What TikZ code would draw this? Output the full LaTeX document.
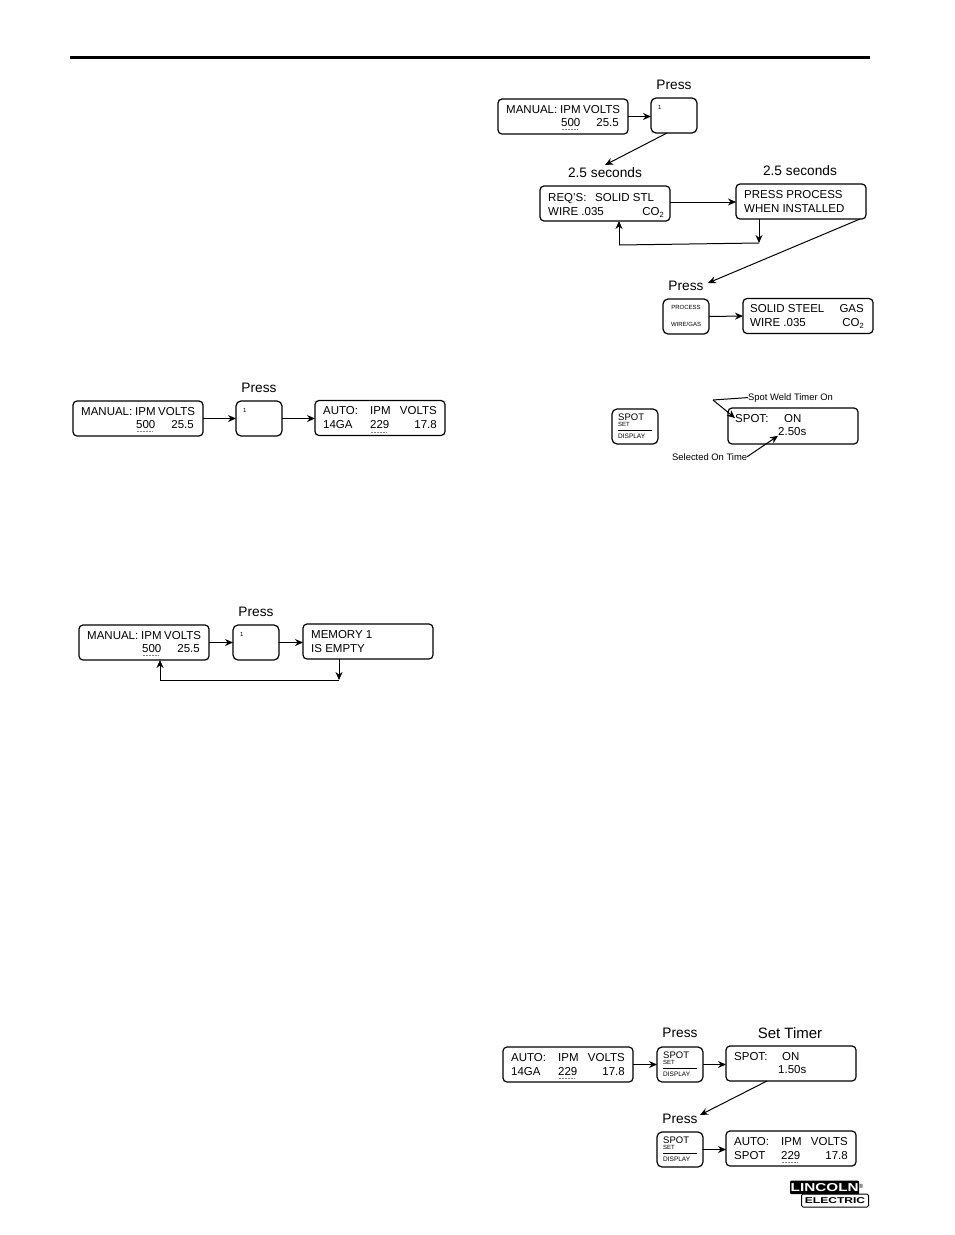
\documentclass[tikz,border=0pt]{standalone}
\usepackage{fontspec}
\setmainfont{Liberation Sans}
\usetikzlibrary{calc,arrows.meta}
\newcommand\fs[1]{\fontsize{#1}{#1}\selectfont}
\newcommand\cotwo{CO\raisebox{-2pt}{\fs{7.5}2}}
\tikzset{
  x=1pt,y=-1pt,
  lcdbox/.style={draw,line width=1.2pt,rounded corners=4pt,minimum width=130pt,minimum height=35pt,inner sep=0pt,outer sep=0pt,anchor=north west},
  btnbox/.style={draw,line width=1.2pt,rounded corners=5pt,minimum width=46pt,minimum height=35pt,inner sep=0pt,outer sep=0pt,anchor=north west},
  lt/.style={inner sep=0pt,anchor=base west,font=\fs{11.5}},
  rt/.style={inner sep=0pt,anchor=base east,font=\fs{11.5}},
  small/.style={inner sep=0pt,anchor=base west,font=\fs{6}},
  smallc/.style={inner sep=0pt,anchor=base,font=\fs{6}},
  head/.style={inner sep=0pt,anchor=center,font=\fs{13.7}},
  note/.style={inner sep=0pt,anchor=base west,font=\fs{9.4}},
  arr/.style={line width=1pt,-{Stealth[length=8pt,width=7pt]}},
  plain/.style={line width=1pt},
  cursor/.style={line width=.8pt,gray,dash pattern=on 2pt off 1pt}
}
\newcommand\manualdisp[3]{\begin{scope}[shift={(#2,#3)}]
  \node[lcdbox] (#1) at (0,0) {};
  \node[lt] (#1a) at (8,14) {MANUAL:};
  \node[lt] (#1b) at (62,14) {IPM};
  \node[lt] (#1c) at (85,14) {VOLTS};
  \node[lt] (#1d) at (63,27) {500};
  \node[rt] (#1e) at (121,27) {25.5};
  \draw[cursor] (64,30.5) -- (80,30.5);
\end{scope}}
\newcommand\autodisp[4]{\begin{scope}[shift={(#2,#3)}]
  \node[lcdbox] (#1) at (0,0) {};
  \node[lt] (#1a) at (8,14) {AUTO:};
  \node[lt] (#1b) at (55,14) {IPM};
  \node[rt] (#1c) at (122,14) {VOLTS};
  \node[lt] (#1d) at (8,28) {#4};
  \node[lt] (#1e) at (55,28) {229};
  \node[rt] (#1f) at (122,28) {17.8};
  \draw[cursor] (56,31.5) -- (72,31.5);
\end{scope}}
\newcommand\onebtn[3]{\begin{scope}[shift={(#2,#3)}]
  \node[btnbox] (#1) at (0,0) {};
  \node[small] (#1a) at (7,11) {1};
\end{scope}}
\newcommand\spotbtn[3]{\begin{scope}[shift={(#2,#3)}]
  \node[btnbox] (#1) at (0,0) {};
  \node[lt,font=\fs{9.5}] (#1a) at (6,11.5) {SPOT};
  \node[small] (#1b) at (6,17.5) {SET};
  \draw[line width=.5pt] (6,21) -- (40,21);
  \node[small,font=\fs{6.5}] (#1c) at (6,29.5) {DISPLAY};
\end{scope}}
\begin{document}
\begin{tikzpicture}
\useasboundingbox (0,0) rectangle (954,1235);
\fill[white] (0,0) rectangle (954,1235);
\draw[line width=3pt] (70,57) -- (870,57);

% --- top right
\node[head] (p1) at (674,85) {Press};
\manualdisp{m1}{498}{99}
\onebtn{b1}{651}{98}
\draw[arr] (m1.east) -- (m1.east -| b1.west);
\node[head] (s1) at (605,173) {2.5 seconds};
\node[head] (s2) at (800,171) {2.5 seconds};
\coordinate (c1) at (605,165);
\draw[arr] ($(b1.south)+(-7,0)$) -- (c1);
\begin{scope}[shift={(540,186)}]
  \node[lcdbox] (r1) at (0,0) {};
  \node[lt] (r1a) at (8,15) {REQ'S:};
  \node[lt] (r1b) at (55,15) {SOLID STL};
  \node[lt] (r1c) at (8,29) {WIRE .035};
  \node[rt] (r1d) at (124,29) {\cotwo};
\end{scope}
\begin{scope}[shift={(736,184)}]
  \node[lcdbox] (w1) at (0,0) {};
  \node[lt] (w1a) at (8,14) {PRESS PROCESS};
  \node[lt] (w1b) at (8,28) {WHEN INSTALLED};
\end{scope}
\draw[arr] ($(r1.east)+(0,-1.5)$) -- ($(w1.west)+(0,.5)$);
\coordinate (c2) at (759,243);
\draw[arr] ($(w1.south)+(-42,0)$) -- (c2);
\coordinate (c3) at (619,245);
\draw[plain] (c2) -- (c3);
\draw[arr] (c3) -- ($(r1.south)+(14,0)$);
\node[head] (p2) at (686,286) {Press};
\coordinate (c4) at (708,283);
\draw[arr] ($(w1.south east)+(-6,0)$) -- (c4);
\begin{scope}[shift={(663,299)}]
  \node[btnbox] (g1) at (0,0) {};
  \node[smallc] (g1a) at (23,10.5) {PROCESS};
  \node[smallc] (g1b) at (23,27.5) {WIRE/GAS};
\end{scope}
\begin{scope}[shift={(743,298.5)}]
  \node[lcdbox] (t1) at (0,0) {};
  \node[lt] (t1a) at (7,13.5) {SOLID STEEL};
  \node[rt] (t1b) at (121,13.5) {GAS};
  \node[lt] (t1c) at (7,28) {WIRE .035};
  \node[rt] (t1d) at (121,28) {\cotwo};
\end{scope}
\draw[arr] (g1.east) -- (t1.west);

% --- spot weld timer
\spotbtn{sb1}{612}{409}
\begin{scope}[shift={(728,408)}]
  \node[lcdbox,minimum height=36pt] (d1) at (0,0) {};
  \node[lt] (d1a) at (7,14) {SPOT:};
  \node[lt] (d1b) at (56,14) {ON};
  \node[lt] (d1c) at (50,27.5) {2.50s};
\end{scope}
\node[note] (n1) at (748,400) {Spot Weld Timer On};
\node[note] (n2) at (672,460) {Selected On Time};
\coordinate (c5) at (713,400);
\draw[plain] (n1.west) -- (c5);
\draw[arr] (c5) -- (d1a.west);
\draw[arr] (n2.east) -- (d1c.south west);

% --- manual -> auto
\node[head] (p3) at (259,388) {Press};
\manualdisp{m2}{73}{401}
\onebtn{b2}{236}{401}
\autodisp{a2}{315}{400.5}{14GA}
\draw[arr] (m2.east) -- (b2.west);
\draw[arr] (b2.east) -- (b2.east -| a2.west);

% --- memory empty
\node[head] (p4) at (256,612) {Press};
\manualdisp{m3}{79}{625}
\onebtn{b3}{233}{625}
\begin{scope}[shift={(303,624)}]
  \node[lcdbox] (e3) at (0,0) {};
  \node[lt] (e3a) at (8,14) {MEMORY 1};
  \node[lt] (e3b) at (8,28) {IS EMPTY};
\end{scope}
\draw[arr] (m3.east) -- (b3.west);
\draw[arr] (b3.east) -- (b3.east -| e3.west);
\coordinate (c6) at (339,680);
\draw[arr] ($(e3.south)+(-29,0)$) -- (c6);
\coordinate (c7) at (160,680);
\draw[plain] (c6) -- (c7);
\draw[arr] (c7) -- ($(m3.south)+(16,0)$);

% --- bottom right
\node[head] (p5) at (680,1033) {Press};
\node[head,font=\fs{15}] (h5) at (790,1033) {Set Timer};
\autodisp{a5}{503}{1047}{14GA}
\spotbtn{sb5}{657}{1047}
\begin{scope}[shift={(726,1046)}]
  \node[lcdbox] (d5) at (0,0) {};
  \node[lt] (d5a) at (8,14) {SPOT:};
  \node[lt] (d5b) at (56,14) {ON};
  \node[lt] (d5c) at (52,27.5) {1.50s};
\end{scope}
\draw[arr] (a5.east) -- (sb5.west);
\draw[arr] (sb5.east) -- (sb5.east -| d5.west);
\node[head] (p6) at (680,1119) {Press};
\coordinate (c8) at (700,1115);
\draw[arr] ($(d5.south)+(-24,0)$) -- (c8);
\spotbtn{sb6}{657}{1132}
\autodisp{a6}{726}{1131}{SPOT}
\draw[arr] (sb6.east) -- (sb6.east -| a6.west);

% --- logo
\node[fill=black,text=white,inner sep=0pt,minimum width=69pt,minimum height=13.5pt,anchor=north west,rounded corners=1pt,font=\fs{11.5}\bfseries] (l1) at (790,1180.5) {\scalebox{1.33}[1]{LINCOLN}};
\node[draw,line width=1pt,rounded corners=1.5pt,inner sep=0pt,minimum width=67pt,minimum height=13pt,anchor=north west,font=\fs{8.5}\bfseries] (l2) at (801,1193.5) {\scalebox{1.42}[1]{ELECTRIC}};
\node[inner sep=0pt,font=\fs{6}] (l3) at (861,1186) {®};
\end{tikzpicture}
\end{document}
